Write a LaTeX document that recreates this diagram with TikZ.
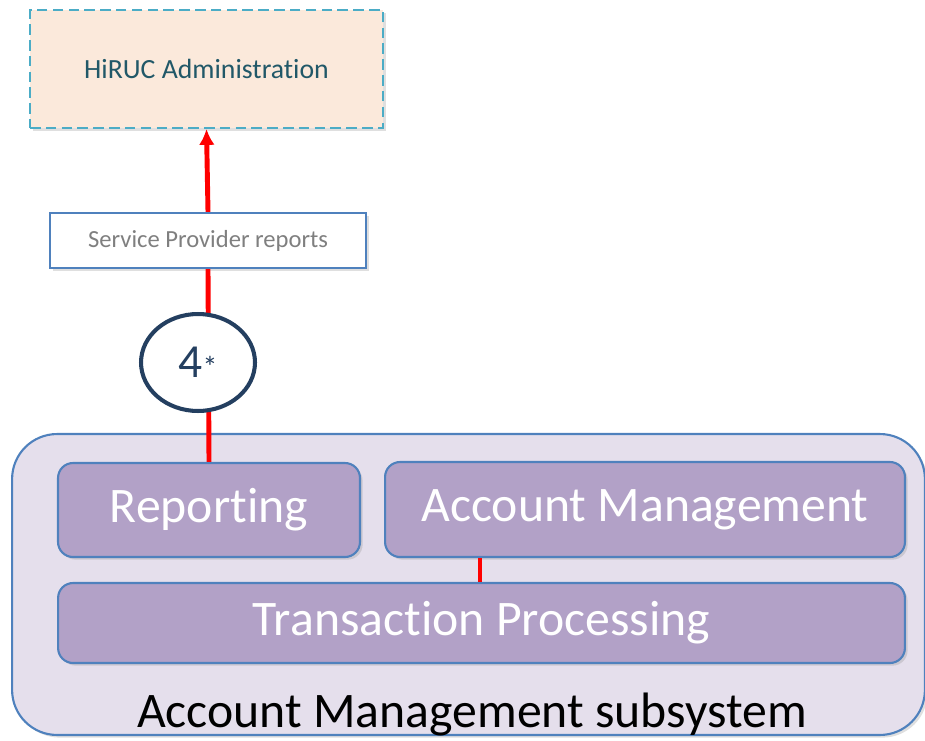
\documentclass[tikz,border=0pt]{standalone}
\usepackage{fontspec}
\setmainfont[Ligatures={NoCommon}]{Carlito}
\usepackage{tikz}
\usetikzlibrary{arrows.meta,positioning,shapes.geometric,shadows}
\definecolor{LinkRed}{HTML}{FF0000}
\definecolor{EdgeBlue}{HTML}{4F81BD}
\definecolor{AdminFill}{HTML}{FBE9DB}
\definecolor{AdminEdge}{HTML}{4BACC6}
\definecolor{AdminText}{HTML}{215868}
\definecolor{NavyEdge}{HTML}{243F60}
\definecolor{SubFill}{HTML}{E5DFEC}
\definecolor{ModFill}{HTML}{B2A1C7}
\definecolor{ReportGrey}{HTML}{7F7F7F}

\tikzset{
  softshadow/.style={drop shadow={opacity=0.25,shadow xshift=1.5pt,shadow yshift=-1.5pt}},
  module/.style={draw=EdgeBlue,line width=1.2pt,rounded corners=0.3cm,fill=ModFill,
    text=white,inner sep=0pt,font=\fontsize{28.3}{32}\selectfont,softshadow},
  redlink/.style={LinkRed,line width=2.8pt}
}

\begin{document}
\begin{tikzpicture}[x=0.02cm,y=-0.02cm]
  \useasboundingbox (0,0) rectangle (925,740);
  % subsystem frame
  \node[draw=EdgeBlue,line width=1.2pt,rounded corners=0.9cm,fill=SubFill,
    minimum width=18.26cm,minimum height=6.02cm,softshadow] (amsub) at (468.5,584.5){};
  \node[font=\fontsize{28.3}{32}\selectfont,inner sep=0pt] (amlabel) at (472,714){Account Management subsystem};
  % modules
  \node[module,minimum width=6.04cm,minimum height=1.88cm] (rep) at (209,510){Reporting};
  \node[module,minimum width=10.4cm,minimum height=1.9cm] (acm) at (645,509.5){Account Management};
  \node[module,minimum width=16.94cm,minimum height=1.6cm] (trp) at (481.5,623){Transaction Processing};
  % top boxes
  \node[draw=AdminEdge,dash pattern=on 6pt off 3pt,line width=1.2pt,fill=AdminFill,text=AdminText,
    minimum width=7.06cm,minimum height=2.36cm,font=\fontsize{15.8}{18}\selectfont,softshadow] (admin) at (206.5,69){HiRUC Administration};
  \node[draw=EdgeBlue,line width=1.2pt,fill=white,text=ReportGrey,
    minimum width=6.32cm,minimum height=1.1cm,font=\fontsize{14}{16}\selectfont,softshadow] (spr) at (208,240.5){Service Provider reports};
  % links
  \draw[redlink] (acm.south -| 480,0) -- (trp.north -| 480,0);
  \draw[redlink] (rep.north) -- (spr.south);
  \draw[redlink,-{Latex[length=9pt,width=9pt]}] (spr.north) -- (admin.south);
  \node[ellipse,draw=NavyEdge,line width=2.3pt,fill=white,text=NavyEdge,
    minimum width=2.28cm,minimum height=1.94cm,inner sep=0pt] (step4) at (198,362.5)
    {{\fontsize{27}{30}\selectfont 4}{\fontsize{17}{20}\selectfont *}};
\end{tikzpicture}
\end{document}
